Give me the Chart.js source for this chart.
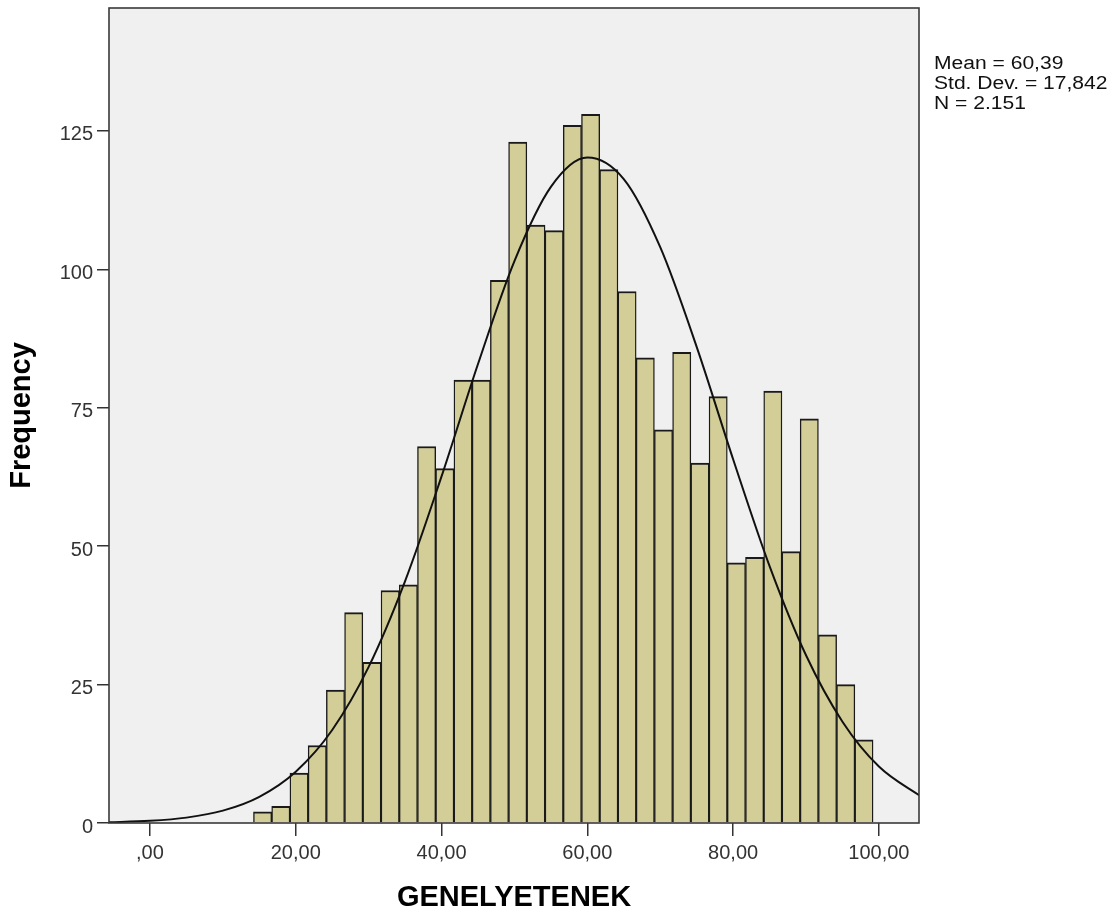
<!DOCTYPE html>
<html>
<head>
<meta charset="utf-8">
<title>GENELYETENEK histogram</title>
<script src="https://cdn.jsdelivr.net/npm/chart.js@4.4.1/dist/chart.umd.min.js"></script>
<style>
    html, body { margin: 0; padding: 0; background: #fff; }
    canvas { display: block; }
</style>
</head>
<body>
<canvas id="chartCanvas" width="1120" height="918"></canvas>
<script>
// Histogram bins (centre of each 2,5 wide bin) and counts
const binCenters = [15.45, 17.95, 20.45, 22.95, 25.45, 27.95, 30.45, 32.95, 35.45, 37.95,
    40.45, 42.95, 45.45, 47.95, 50.45, 52.95, 55.45, 57.95, 60.45, 62.95,
    65.45, 67.95, 70.45, 72.95, 75.45, 77.95, 80.45, 82.95, 85.45, 87.95,
    90.45, 92.95, 95.45, 97.95];
const frequencies = [2, 3, 9, 14, 24, 38, 29, 42, 43, 68,
    64, 80, 80, 98, 123, 108, 107, 126, 128, 118,
    96, 84, 71, 85, 65, 77, 47, 48, 78, 49,
    73, 34, 25, 15];

// Normal curve
const curveX = [-6, 0, 5, 10, 15, 20, 25, 30, 35, 40, 45, 50, 55, 60, 65, 70, 75, 80, 85, 90, 95, 100, 106];
const curveY = [0.12, 0.39, 0.97, 2.23, 4.73, 9.27, 16.8, 28.2, 43.7, 62.6, 82.9, 101.5, 114.9, 120.2,
    116.3, 104.0, 86.0, 65.7, 46.4, 30.3, 18.3, 10.2, 4.58];

// Axis ticks
const xTickValues = [0, 20, 40, 60, 80, 100];
const xTickLabels = [',00', '20,00', '40,00', '60,00', '80,00', '100,00'];
const yTickValues = [0, 25, 50, 75, 100, 125];
const yTickLabels = ['0', '25', '50', '75', '100', '125'];

const statLines = ['Mean = 60,39', 'Std. Dev. = 17,842', 'N = 2.151'];

const FONT = '"Liberation Sans", Arial, sans-serif';

// Grey plot background, frame and the stats box
const histogramDecor = {
    id: 'histogramDecor',
    beforeDraw(chart) {
        const { ctx, chartArea } = chart;
        ctx.save();
        ctx.fillStyle = '#ffffff';
        ctx.fillRect(0, 0, chart.width, chart.height);
        ctx.fillStyle = '#f0f0f0';
        ctx.fillRect(chartArea.left, chartArea.top, chartArea.right - chartArea.left, chartArea.bottom - chartArea.top);
        ctx.restore();
    },
    afterDatasetsDraw(chart) {
        const { ctx, chartArea } = chart;
        ctx.save();
        ctx.strokeStyle = '#3a3a3a';
        ctx.lineWidth = 1.6;
        ctx.strokeRect(chartArea.left, chartArea.top, chartArea.right - chartArea.left, chartArea.bottom - chartArea.top);
        ctx.restore();
    },
    afterDraw(chart) {
        const { ctx, chartArea } = chart;
        ctx.save();
        ctx.fillStyle = '#111';
        ctx.font = '18px ' + FONT;
        ctx.textBaseline = 'alphabetic';
        statLines.forEach((line, i) => {
            ctx.save();
            ctx.translate(chartArea.right + 15, 69 + i * 20);
            ctx.scale(1.17, 1);
            ctx.fillText(line, 0, 0);
            ctx.restore();
        });
        ctx.restore();
    }
};

const config = {
    type: 'bar',
    data: {
        datasets: [{
            type: 'line',
            label: 'Normal',
            data: curveX.map((x, i) => ({ x: x, y: curveY[i] })),
            borderColor: '#111',
            borderWidth: 2,
            pointRadius: 0,
            fill: false,
            cubicInterpolationMode: 'monotone',
            order: 0
        }, {
            label: 'Frequency',
            data: binCenters.map((x, i) => ({ x: x, y: frequencies[i] })),
            backgroundColor: '#d3ce97',
            borderColor: '#1a1a1a',
            borderWidth: { top: 2, left: 1.4, right: 1.4, bottom: 0 },
            borderSkipped: false,
            barPercentage: 1,
            categoryPercentage: 1,
            grouped: false,
            order: 1
        }]
    },
    options: {
        responsive: false,
        animation: false,
        layout: {
            padding: { left: 0, top: 8, right: 201, bottom: 0 }
        },
        plugins: {
            legend: { display: false },
            tooltip: { enabled: false }
        },
        scales: {
            x: {
                type: 'linear',
                offset: false,
                min: -5.62,
                max: 105.5,
                afterBuildTicks: scale => {
                    scale.ticks = xTickValues.map(v => ({ value: v }));
                },
                afterFit: scale => {
                    scale.height = 95;
                    scale.paddingLeft = 0;
                    scale.paddingRight = 0;
                },
                grid: {
                    offset: false,
                    drawOnChartArea: false,
                    drawTicks: true,
                    tickLength: 13,
                    color: '#333',
                    lineWidth: 1.5
                },
                border: { display: false },
                ticks: {
                    autoSkip: false,
                    maxRotation: 0,
                    padding: 5,
                    color: '#333',
                    font: { family: FONT, size: 20 },
                    callback: (value, index) => xTickLabels[index]
                },
                title: {
                    display: true,
                    text: 'GENELYETENEK',
                    color: '#000',
                    font: { family: FONT, size: 29, weight: 'bold' },
                    padding: { top: 0, bottom: 3 }
                }
            },
            y: {
                type: 'linear',
                min: 0,
                max: 147.2,
                afterBuildTicks: scale => {
                    scale.ticks = yTickValues.map(v => ({ value: v }));
                },
                afterFit: scale => {
                    scale.width = 109;
                    scale.paddingTop = 0;
                    scale.paddingBottom = 0;
                },
                grid: {
                    drawOnChartArea: false,
                    drawTicks: true,
                    tickLength: 12,
                    color: '#333',
                    lineWidth: 1.5
                },
                border: { display: false },
                ticks: {
                    autoSkip: false,
                    padding: 4,
                    labelOffset: 4,
                    color: '#333',
                    font: { family: FONT, size: 20 },
                    callback: (value, index) => yTickLabels[index]
                },
                title: {
                    display: true,
                    text: 'Frequency',
                    color: '#000',
                    font: { family: FONT, size: 29, weight: 'bold' },
                    padding: { top: 5, bottom: 0 }
                }
            }
        }
    },
    plugins: [histogramDecor]
};

const ctx = document.getElementById('chartCanvas').getContext('2d');
const chart = new Chart(ctx, config);
</script>
</body>
</html>
